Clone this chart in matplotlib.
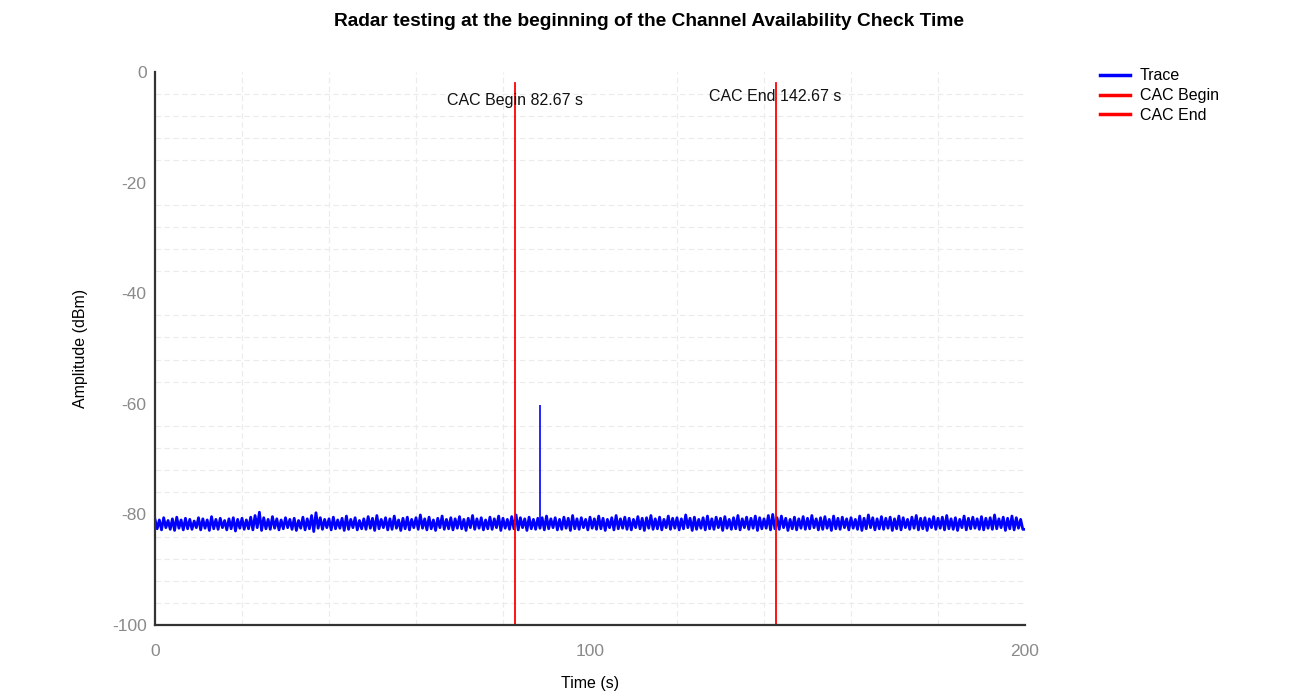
import numpy as np
import matplotlib
matplotlib.use("Agg")
import matplotlib.pyplot as plt

# ---- data ----
title = "Radar testing at the beginning of the Channel Availability Check Time"
x_label = "Time (s)"
y_label = "Amplitude (dBm)"
x_ticks = [0, 100, 200]
y_ticks = [0, -20, -40, -60, -80, -100]

cac_begin = 82.67
cac_end = 142.67
cac_labels = ["CAC Begin 82.67 s", "CAC End 142.67 s"]

# upper / lower excursions of the noisy trace, one pair per second
trace_upper = [
    -80.9, -81.0, -80.6, -81.1, -80.8, -80.5, -81.0, -80.7, -80.9, -81.2,
    -80.6, -80.8, -81.0, -80.4, -80.9, -80.7, -81.1, -80.8, -80.6, -80.9,
    -80.7, -81.0, -80.5, -80.2, -79.6, -80.6, -80.9, -80.4, -80.8, -81.0,
    -80.6, -80.9, -80.7, -81.1, -80.5, -80.8, -80.2, -79.7, -80.6, -80.9,
    -80.8, -80.5, -81.0, -80.7, -80.3, -80.9, -80.6, -81.1, -80.8, -80.4,
    -80.7, -80.2, -80.9, -80.6, -80.8, -80.3, -81.0, -80.7, -80.5, -80.9,
    -80.6, -80.1, -80.8, -80.5, -81.0, -80.7, -80.3, -80.9, -80.6, -80.8,
    -80.4, -80.9, -80.7, -80.2, -80.8, -80.6, -81.0, -80.5, -80.8, -80.3,
    -80.7, -80.9, -80.4, -80.1, -80.6, -80.8, -80.5, -80.9, -80.7, -80.6,
    -80.3, -80.8, -80.6, -80.9, -80.5, -80.7, -80.2, -80.8, -80.6, -80.9,
    -80.5, -80.8, -80.3, -80.7, -80.9, -80.6, -80.2, -80.8, -80.5, -80.7,
    -80.9, -80.4, -80.7, -80.6, -80.2, -80.8, -80.5, -80.9, -80.3, -80.7,
    -80.6, -80.8, -80.1, -80.7, -80.5, -80.9, -80.6, -80.3, -80.8, -80.5,
    -80.7, -80.4, -80.9, -80.6, -80.2, -80.8, -80.5, -80.7, -80.3, -80.6,
    -80.8, -80.2, -80.0, -80.6, -80.3, -80.7, -80.9, -80.5, -80.8, -80.4,
    -80.7, -80.2, -80.8, -80.6, -80.4, -80.9, -80.3, -80.7, -80.5, -80.8,
    -80.6, -80.9, -80.3, -80.7, -80.1, -80.6, -80.8, -80.4, -80.7, -80.5,
    -80.8, -80.3, -80.6, -80.9, -80.5, -80.2, -80.7, -80.6, -80.8, -80.4,
    -80.7, -80.5, -80.2, -80.8, -80.6, -80.9, -80.3, -80.7, -80.5, -80.8,
    -80.4, -80.7, -80.6, -80.1, -80.8, -80.5, -80.7, -80.3, -80.6, -80.9,
]
trace_lower = [
    -82.6, -82.8, -82.4, -82.7, -82.9, -82.5, -82.8, -82.6, -82.7, -82.4,
    -82.8, -82.5, -82.9, -82.6, -82.7, -82.4, -82.8, -82.6, -83.0, -82.5,
    -82.7, -82.6, -82.8, -82.4, -82.9, -82.6, -82.7, -82.5, -82.8, -82.6,
    -82.4, -82.7, -82.9, -82.5, -82.8, -82.6, -83.1, -82.5, -82.7, -82.4,
    -82.8, -82.6, -82.5, -82.9, -82.7, -82.4, -82.8, -82.6, -82.7, -82.5,
    -82.9, -82.6, -82.4, -82.8, -82.7, -82.5, -82.9, -82.6, -82.8, -82.4,
    -82.7, -82.5, -82.8, -82.6, -82.9, -82.4, -82.7, -82.6, -82.8, -82.5,
    -82.6, -82.9, -82.4, -82.7, -82.5, -82.8, -82.6, -82.7, -82.4, -82.9,
    -82.5, -82.7, -82.6, -82.8, -82.4, -82.9, -82.6, -82.7, -82.5, -82.8,
    -82.6, -82.4, -82.8, -82.7, -82.5, -82.9, -82.6, -82.7, -82.4, -82.8,
    -82.5, -82.7, -82.6, -82.9, -82.4, -82.8, -82.6, -82.5, -82.7, -82.8,
    -82.4, -82.6, -82.9, -82.5, -82.7, -82.6, -82.8, -82.4, -82.7, -82.5,
    -82.8, -82.6, -82.4, -82.9, -82.7, -82.5, -82.8, -82.6, -82.7, -82.4,
    -82.9, -82.5, -82.7, -82.6, -82.8, -82.4, -82.7, -82.5, -82.9, -82.6,
    -82.5, -82.8, -82.6, -82.7, -82.4, -82.9, -82.6, -82.8, -82.5, -82.7,
    -82.6, -82.4, -82.8, -82.7, -82.5, -82.9, -82.6, -82.7, -82.4, -82.8,
    -82.5, -82.7, -82.9, -82.6, -82.4, -82.8, -82.6, -82.7, -82.5, -82.9,
    -82.6, -82.8, -82.4, -82.7, -82.5, -82.8, -82.6, -82.9, -82.4, -82.7,
    -82.5, -82.8, -82.6, -82.7, -82.9, -82.4, -82.8, -82.6, -82.5, -82.7,
    -82.8, -82.5, -82.7, -82.6, -82.4, -82.9, -82.6, -82.8, -82.5, -82.7,
]
spike_time = 88.5
spike_base = -81.6
spike_level = -60.2

# ---- build the trace: interleave upper/lower samples ----
n = len(trace_upper)
t_up = np.arange(n, dtype=float)
t_lo = t_up + 0.5
times = np.empty(2 * n)
vals = np.empty(2 * n)
times[0::2], times[1::2] = t_up, t_lo
vals[0::2], vals[1::2] = trace_upper, trace_lower
times = np.append(times, 200.0)
vals = np.append(vals, trace_lower[-1])

# ---- figure ----
plt.rcParams['font.family'] = ['Liberation Sans', 'DejaVu Sans']
plt.rcParams['axes.unicode_minus'] = False
fig = plt.figure(figsize=(12.89, 6.97), dpi=100)
ax = fig.add_axes([155 / 1289, 1 - 625 / 697, 870 / 1289, 553 / 697])

ax.set_xlim(0, 200)
ax.set_ylim(-100, 0)

ax.set_xticks(x_ticks, minor=False)
ax.set_xticks(np.arange(0, 201, 20), minor=True)
ax.set_yticks(y_ticks, minor=False)
ax.set_yticks(np.arange(-100, 1, 4), minor=True)
ax.grid(False, which='major')
ax.grid(True, which='minor', color='#ebebeb', linestyle=(0, (5, 3)), linewidth=0.8)
ax.set_axisbelow(True)
ax.tick_params(which='both', length=0, labelsize=12.5, labelcolor='#8a8a8a')
ax.tick_params(axis='x', pad=14)
ax.tick_params(axis='y', pad=6)

for s in ['top', 'right']:
    ax.spines[s].set_visible(False)
for s in ['left', 'bottom']:
    ax.spines[s].set_color('#333333')
    ax.spines[s].set_linewidth(1.6)

l_trace, = ax.plot(times, vals, color='#0000ff', linewidth=2.0, label='Trace')
ax.plot([spike_time, spike_time], [spike_base, spike_level], color='#0000ff',
        linewidth=1.2, solid_capstyle='butt')
l_b = ax.axvline(cac_begin, ymin=0, ymax=0.98, color='#ff0000', linewidth=1.3, label='CAC Begin')
l_e = ax.axvline(cac_end, ymin=0, ymax=0.98, color='#ff0000', linewidth=1.3, label='CAC End')

ax.text(cac_begin, -5.2, cac_labels[0], ha='center', va='center', fontsize=11.5, color='#111111')
ax.text(cac_end, -4.5, cac_labels[1], ha='center', va='center', fontsize=11.5, color='#111111')

ax.set_xlabel(x_label, fontsize=11.5, labelpad=12)
ax.set_ylabel(y_label, fontsize=11.5, labelpad=17)

fig.text(649 / 1289, 1 - 22 / 697, title, ha='center', va='center',
         fontsize=13.8, fontweight='bold')

leg = fig.legend(handles=[l_trace, l_b, l_e], loc='upper left',
                 bbox_to_anchor=(1094 / 1289, 1 - 62 / 697), frameon=False,
                 fontsize=11.5, handlelength=1.85, labelspacing=0.3, handletextpad=0.6,
                 borderaxespad=0)
for line in leg.get_lines():
    line.set_linewidth(2.5)

fig.savefig('out.png', dpi=100)
